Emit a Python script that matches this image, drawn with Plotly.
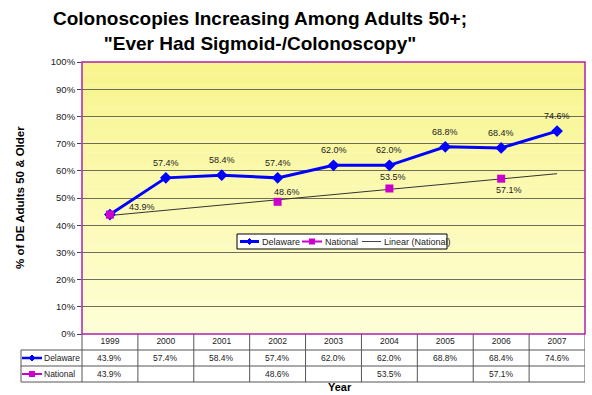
import numpy as np
import plotly.graph_objects as go

years = [1999, 2000, 2001, 2002, 2003, 2004, 2005, 2006, 2007]
delaware = [43.9, 57.4, 58.4, 57.4, 62.0, 62.0, 68.8, 68.4, 74.6]
national = [43.9, None, None, 48.6, None, 53.5, None, 57.1, None]
ytick_vals = [0, 10, 20, 30, 40, 50, 60, 70, 80, 90, 100]
ytick_text = ["%d%%" % v for v in ytick_vals]

# Excel-style linear trendline of the national series
nx = np.array([y for y, v in zip(years, national) if v is not None], dtype=float)
ny = np.array([v for v in national if v is not None], dtype=float)
slope, intercept = np.polyfit(nx, ny, 1)
trend = [slope * y + intercept for y in years]

FONT = "Liberation Sans, Arial, sans-serif"
BLUE = "#0000FF"
MAG = "#CC00CC"
GRID = "#6E6E5A"
TXT = "#222222"
TABLE = "#555555"

W, H = 592, 395
L, R, T, B = 82, 7, 62, 61
PW, PH = W - L - R, H - T - B


def px_x(px):
    return (px - L) / PW


def px_y(py):
    return (H - B - py) / PH


fig = go.Figure()
fig.add_trace(go.Scatter(
    x=years, y=trend, name="Linear (National)", mode="lines",
    line=dict(color="#333333", width=1), showlegend=False,
))
fig.add_trace(go.Scatter(
    x=years, y=delaware, name="Delaware", mode="lines+markers",
    line=dict(color=BLUE, width=3),
    marker=dict(symbol="diamond", size=9, color=BLUE), showlegend=False,
))
fig.add_trace(go.Scatter(
    x=years, y=national, name="National", mode="lines+markers",
    connectgaps=False,
    line=dict(color=MAG, width=2),
    marker=dict(symbol="square", size=8, color=MAG), showlegend=False,
))

shapes = []
nb = 24
top_c = np.array([0xF8, 0xF5, 0x8C])
bot_c = np.array([0xFF, 0xFF, 0xD8])
for i in range(nb):
    f = (i + 0.5) / nb
    c = bot_c + (top_c - bot_c) * f
    shapes.append(dict(type="rect", xref="paper", yref="paper",
                       x0=0, x1=1, y0=i / nb, y1=(i + 1) / nb,
                       fillcolor="rgb(%d,%d,%d)" % tuple(c.astype(int)),
                       line=dict(width=0), layer="below"))

shapes.append(dict(type="rect", xref="paper", yref="paper", x0=0, x1=1, y0=0, y1=1,
                   line=dict(color="#B020B0", width=1.5), layer="above"))

# data table lines
row_y = [px_y(350), px_y(366), px_y(382)]
tx0 = px_x(21)
for ry in row_y:
    shapes.append(dict(type="line", xref="paper", yref="paper", x0=tx0, x1=1,
                       y0=ry, y1=ry, line=dict(color=TABLE, width=1)))
shapes.append(dict(type="line", xref="paper", yref="paper", x0=tx0, x1=tx0,
                   y0=row_y[0], y1=row_y[2], line=dict(color=TABLE, width=1)))
shapes.append(dict(type="line", xref="paper", yref="paper", x0=0, x1=0,
                   y0=0, y1=row_y[2], line=dict(color=TABLE, width=1)))
for yr in years:
    shapes.append(dict(type="line", xref="x", yref="paper", x0=yr + 0.5, x1=yr + 0.5,
                       y0=0, y1=row_y[2], line=dict(color=TABLE, width=1)))


def key(x0, x1, py, color, sym, lw=2, r=3):
    out = [dict(type="line", xref="paper", yref="paper", x0=px_x(x0), x1=px_x(x1),
                y0=px_y(py), y1=px_y(py), line=dict(color=color, width=lw))]
    cx, cy = (x0 + x1) / 2, py
    if sym == "diamond":
        path = "M %f,%f L %f,%f L %f,%f L %f,%f Z" % (
            px_x(cx - r), px_y(cy), px_x(cx), px_y(cy - r),
            px_x(cx + r), px_y(cy), px_x(cx), px_y(cy + r))
        out.append(dict(type="path", xref="paper", yref="paper", path=path,
                        fillcolor=color, line=dict(color=color, width=1)))
    elif sym == "square":
        out.append(dict(type="rect", xref="paper", yref="paper",
                        x0=px_x(cx - r), x1=px_x(cx + r), y0=px_y(cy + r), y1=px_y(cy - r),
                        fillcolor=color, line=dict(color=color, width=0)))
    return out

# keys inside table
shapes += key(22, 42, 358, BLUE, "diamond", lw=2.5)
shapes += key(22, 42, 374, MAG, "square")

# manual legend box
shapes.append(dict(type="rect", xref="paper", yref="paper",
                   x0=px_x(237), x1=px_x(447), y0=px_y(249), y1=px_y(234),
                   fillcolor="#FFFFFF", line=dict(color="#000000", width=1)))
shapes += key(240, 259, 241.5, BLUE, "diamond", lw=3)
shapes += key(302, 322, 241.5, MAG, "square")
shapes += key(362, 381, 241.5, "#444444", None, lw=1)

annotations = []
cell_font = dict(size=8.5, color=TXT, family=FONT)
for yr, d, n in zip(years, delaware, national):
    annotations.append(dict(x=yr, y=px_y(358), xref="x", yref="paper", showarrow=False,
                            xanchor="center", yanchor="middle",
                            text="%.1f%%" % d, font=cell_font))
    if n is not None:
        annotations.append(dict(x=yr, y=px_y(374), xref="x", yref="paper", showarrow=False,
                                xanchor="center", yanchor="middle",
                                text="%.1f%%" % n, font=cell_font))
annotations.append(dict(x=px_x(42), y=px_y(358), xref="paper", yref="paper", showarrow=False,
                        xanchor="left", yanchor="middle", text="Delaware", font=cell_font))
annotations.append(dict(x=px_x(42), y=px_y(374), xref="paper", yref="paper", showarrow=False,
                        xanchor="left", yanchor="middle", text="National", font=cell_font))

# legend text
leg_font = dict(size=9, color=TXT, family=FONT)
for px, txt in [(260, "Delaware"), (323, "National"), (382, "Linear (National)")]:
    annotations.append(dict(x=px_x(px), y=px_y(241.5), xref="paper", yref="paper",
                            showarrow=False, xanchor="left", yanchor="middle",
                            text=txt, font=leg_font))

# data labels
lab_font = dict(size=9, color=TXT, family=FONT)
for i, (yr, d) in enumerate(zip(years, delaware)):
    xs, ys = (32, 8) if i == 0 else (0, 15)
    annotations.append(dict(x=yr, y=d, xref="x", yref="y", showarrow=False,
                            xanchor="center", yanchor="middle",
                            text="%.1f%%" % d, xshift=xs, yshift=ys, font=lab_font))
nat_shift = {2002: (9, 10), 2004: (4, 11), 2006: (8, -11)}
for yr, n in zip(years, national):
    if n is not None and yr in nat_shift:
        xs, ys = nat_shift[yr]
        annotations.append(dict(x=yr, y=n, xref="x", yref="y", showarrow=False,
                                xanchor="center", yanchor="middle",
                                text="%.1f%%" % n, xshift=xs, yshift=ys, font=lab_font))

annotations.append(dict(x=px_x(260), y=px_y(30.5), xref="paper", yref="paper",
                        xanchor="center", yanchor="middle", showarrow=False,
                        text="<b>Colonoscopies Increasing Among Adults 50+;<br>\"Ever Had Sigmoid-/Colonoscopy\"</b>",
                        font=dict(size=19, color="#000000", family=FONT), align="center"))
annotations.append(dict(x=px_x(20), y=px_y(198), xref="paper", yref="paper", showarrow=False,
                        xanchor="center", yanchor="middle",
                        textangle=-90, text="<b>% of DE Adults 50 & Older</b>",
                        font=dict(size=11.5, color="#000000", family=FONT)))
annotations.append(dict(x=px_x(340), y=px_y(387), xref="paper", yref="paper", showarrow=False,
                        xanchor="center", yanchor="middle",
                        text="<b>Year</b>", font=dict(size=11, color="#000000", family=FONT)))

fig.update_layout(
    width=W, height=H,
    margin=dict(l=L, r=R, t=T, b=B, autoexpand=False),
    paper_bgcolor="#FFFFFF", plot_bgcolor="rgba(0,0,0,0)",
    font=dict(family=FONT, color=TXT),
    showlegend=False,
    shapes=shapes, annotations=annotations,
    xaxis=dict(range=[1998.5, 2007.5], tickvals=years, ticktext=[str(y) for y in years],
               showgrid=False, zeroline=False, ticks="", showline=False,
               tickfont=dict(size=8.5, color=TXT, family=FONT), fixedrange=True),
    yaxis=dict(range=[0, 100], tickvals=ytick_vals, ticktext=ytick_text,
               showgrid=True, gridcolor=GRID, gridwidth=1, zeroline=False,
               ticks="outside", ticklen=4, tickcolor="#444444", showline=False,
               tickfont=dict(size=9.5, color=TXT, family=FONT), fixedrange=True),
)

fig.write_html("out.html", config={"displayModeBar": False},
               post_script="document.body.style.margin='0px';")
